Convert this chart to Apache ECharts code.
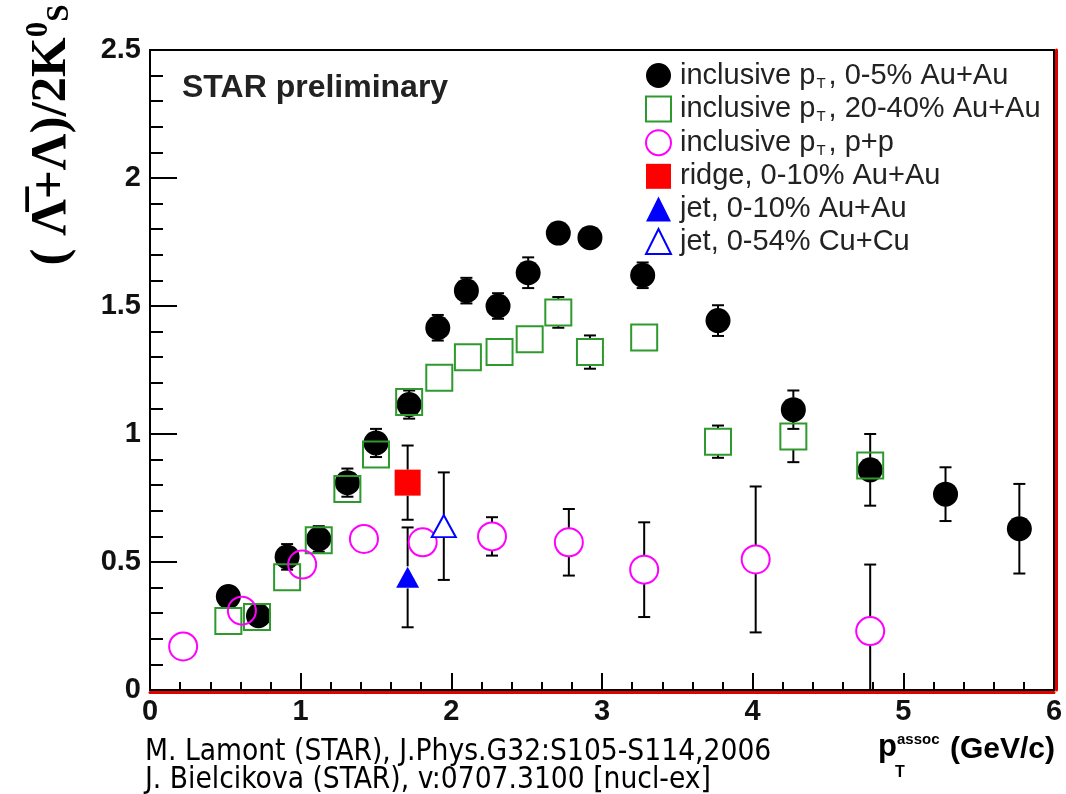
<!DOCTYPE html>
<html>
<head>
<meta charset="utf-8">
<script src="https://cdn.jsdelivr.net/npm/echarts@6/dist/echarts.min.js"></script>
<style>
  html, body { margin: 0; padding: 0; background: #fff; }
  #chart { width: 1066px; height: 794px; }
</style>
</head>
<body>
<div id="chart"></div>
<script>
// inclusive pT, 0-5% Au+Au
const auCentX = [0.52, 0.72, 0.91, 1.12, 1.31, 1.50, 1.72, 1.91, 2.10, 2.31, 2.51, 2.71, 2.92, 3.27, 3.77, 4.27, 4.78, 5.28, 5.77]
const auCentY = [0.365, 0.29, 0.52, 0.59, 0.81, 0.965, 1.115, 1.415, 1.56, 1.50, 1.63, 1.785, 1.767, 1.62, 1.443, 1.095, 0.86, 0.765, 0.63]
const auCentErr = [0.04, 0.04, 0.05, 0.05, 0.055, 0.055, 0.055, 0.05, 0.05, 0.05, 0.06, 0.045, 0.045, 0.05, 0.06, 0.075, 0.14, 0.105, 0.175]

// inclusive pT, 20-40% Au+Au
const auMidX = [0.52, 0.71, 0.91, 1.12, 1.31, 1.50, 1.72, 1.92, 2.11, 2.32, 2.52, 2.71, 2.92, 3.28, 3.77, 4.27, 4.78]
const auMidY = [0.27, 0.285, 0.44, 0.585, 0.785, 0.92, 1.125, 1.22, 1.30, 1.32, 1.37, 1.475, 1.32, 1.377, 0.97, 0.99, 0.877]
const auMidErr = [0.02, 0.02, 0.02, 0.03, 0.03, 0.03, 0.03, 0.03, 0.03, 0.03, 0.03, 0.06, 0.065, 0.045, 0.063, 0.1, 0.04]

// inclusive pT, p+p
const ppX = [0.22, 0.61, 1.01, 1.42, 1.81, 2.27, 2.78, 3.28, 4.02, 4.78]
const ppY = [0.17, 0.31, 0.49, 0.59, 0.577, 0.60, 0.577, 0.47, 0.51, 0.23]
const ppErr = [0.02, 0.02, 0.03, 0.03, 0.03, 0.075, 0.13, 0.185, 0.285, 0.26]

// ridge / jet points
const ridgeX = [1.71], ridgeY = [0.81], ridgeErr = [0.145]
const jetAuX = [1.71], jetAuY = [0.44], jetAuErr = [0.195]
const jetCuX = [1.95], jetCuY = [0.64], jetCuErr = [0.21]

const names = [
  'inclusive p_T, 0-5% Au+Au',
  'inclusive p_T, 20-40% Au+Au',
  'inclusive p_T, p+p',
  'ridge, 0-10% Au+Au',
  'jet, 0-10% Au+Au',
  'jet, 0-54% Cu+Cu'
]
const xTicks = [0, 1, 2, 3, 4, 5, 6]
const yTicks = [0, 0.5, 1, 1.5, 2, 2.5]

const pts = (xs, ys) => xs.map((x, i) => [x, ys[i]])
const errPts = (xs, ys, es) => xs.map((x, i) => [x, ys[i], es[i]])

// vertical error bar, leaving a gap where the marker sits
function errorSeries(id, data, gap, z) {
  return {
    name: id,
    type: 'custom',
    clip: true,
    silent: true,
    z: z,
    encode: { x: 0, y: 1 },
    data: data,
    renderItem: function(params, api) {
      const x = api.value(0)
      const y = api.value(1)
      const e = api.value(2)
      const c = api.coord([x, y])
      const top = api.coord([x, y + e])
      const bot = api.coord([x, y - e])
      const st = { stroke: '#000', lineWidth: 2 }
      const kids = []
      if (c[1] - top[1] > gap) {
        kids.push({ type: 'line', shape: { x1: c[0], y1: c[1] - gap, x2: top[0], y2: top[1] }, style: st })
        kids.push({ type: 'line', shape: { x1: top[0] - 6, y1: top[1], x2: top[0] + 6, y2: top[1] }, style: st })
        kids.push({ type: 'line', shape: { x1: c[0], y1: c[1] + gap, x2: bot[0], y2: bot[1] }, style: st })
        kids.push({ type: 'line', shape: { x1: bot[0] - 6, y1: bot[1], x2: bot[0] + 6, y2: bot[1] }, style: st })
      }
      return { type: 'group', children: kids }
    }
  }
}

const chart = echarts.init(document.getElementById('chart'))
const labelFont = { fontFamily: 'Liberation Sans', fontWeight: 'bold', fontSize: 29, color: '#111' }

const option = {
  animation: false,
  backgroundColor: '#fff',
  grid: { left: 150, right: 12, top: 50, bottom: 104, show: true, borderColor: '#000', borderWidth: 2 },
  xAxis: [{
    type: 'value',
    min: 0,
    max: 6,
    interval: 1,
    axisLine: { show: true, onZero: false, lineStyle: { color: '#000', width: 2 } },
    axisTick: { show: true, inside: true, length: 17, lineStyle: { color: '#000', width: 2 } },
    minorTick: { show: true, splitNumber: 5, length: 8, lineStyle: { color: '#000', width: 2 } },
    splitLine: { show: false },
    axisLabel: Object.assign({ margin: 7, formatter: v => xTicks.includes(v) ? String(v) : '' }, labelFont)
  }, {
    type: 'value',
    min: 0,
    max: 6,
    position: 'bottom',
    offset: 2,
    axisLine: { show: true, onZero: false, lineStyle: { color: '#e00000', width: 3 } },
    axisTick: { show: false },
    axisLabel: { show: false },
    splitLine: { show: false }
  }],
  yAxis: [{
    type: 'value',
    min: 0,
    max: 2.5,
    interval: 0.5,
    axisLine: { show: true, onZero: false, lineStyle: { color: '#000', width: 2 } },
    axisTick: { show: true, inside: true, length: 27, lineStyle: { color: '#000', width: 2 } },
    minorTick: { show: true, splitNumber: 5, length: 13, lineStyle: { color: '#000', width: 2 } },
    splitLine: { show: false },
    axisLabel: Object.assign({ margin: 9, formatter: v => yTicks.includes(v) ? String(v) : '' }, labelFont)
  }, {
    type: 'value',
    min: 0,
    max: 2.5,
    position: 'right',
    offset: 2,
    axisLine: { show: true, onZero: false, lineStyle: { color: '#e00000', width: 3 } },
    axisTick: { show: false },
    axisLabel: { show: false },
    splitLine: { show: false }
  }],
  legend: {
    data: names,
    orient: 'vertical',
    left: 640,
    top: 56,
    itemWidth: 25,
    itemHeight: 25,
    itemGap: 3.6,
    selectedMode: false,
    formatter: name => name.replace('p_T', 'p{sub|T}'),
    textStyle: {
      fontFamily: 'Liberation Sans',
      fontSize: 29,
      color: '#222',
      lineHeight: 29,
      padding: [0, 0, 0, 4],
      rich: {
        sub: { fontFamily: 'Liberation Sans', fontSize: 15, color: '#222', padding: [16, 3, 0, 1] }
      }
    }
  },
  graphic: [
    {
      type: 'text',
      x: 52,
      y: 135,
      rotation: Math.PI / 2,
      style: {
        text: '( \u039B\u0305+\u039B)/2K{sup|0}{sub|S}',
        fontFamily: 'Liberation Serif',
        fontWeight: 'bold',
        fontSize: 51,
        fill: '#000',
        align: 'center',
        verticalAlign: 'middle',
        rich: {
          sup: { fontFamily: 'Liberation Serif', fontWeight: 'bold', fontSize: 31, padding: [0, 0, 26, 0] },
          sub: { fontFamily: 'Liberation Serif', fontWeight: 'bold', fontSize: 31, padding: [16, 0, 0, 0] }
        }
      }
    },
    {
      type: 'text',
      left: 182,
      top: 72,
      style: { text: 'STAR preliminary', fontFamily: 'Liberation Sans', fontWeight: 'bold', fontSize: 32, fill: '#222' }
    },
    {
      type: 'text',
      left: 145,
      top: 737,
      style: {
        text: 'M. Lamont (STAR), J.Phys.G32:S105-S114,2006\nJ. Bielcikova (STAR), v:0707.3100 [nucl-ex]',
        fontFamily: 'DejaVu Sans Condensed',
        fontSize: 29.6,
        lineHeight: 28,
        fill: '#000'
      }
    },
    {
      type: 'text',
      left: 878,
      top: 732,
      style: { text: 'p', fontFamily: 'Liberation Sans', fontWeight: 'bold', fontSize: 31, fill: '#000' }
    },
    {
      type: 'text',
      left: 897,
      top: 732,
      style: { text: 'assoc', fontFamily: 'Liberation Sans', fontWeight: 'bold', fontSize: 15, fill: '#000' }
    },
    {
      type: 'text',
      left: 895,
      top: 765,
      style: { text: 'T', fontFamily: 'Liberation Sans', fontWeight: 'bold', fontSize: 16, fill: '#000' }
    },
    {
      type: 'text',
      left: 950,
      top: 735,
      style: { text: '(GeV/c)', fontFamily: 'Liberation Sans', fontWeight: 'bold', fontSize: 30, fill: '#000' }
    }
  ],
  series: [
    errorSeries('err0', errPts(auCentX, auCentY, auCentErr), 12, 2),
    errorSeries('err1', errPts(auMidX, auMidY, auMidErr), 13, 2),
    errorSeries('err2', errPts(ppX, ppY, ppErr), 14, 2),
    errorSeries('err3', errPts(ridgeX, ridgeY, ridgeErr), 13, 2),
    errorSeries('err4', errPts(jetAuX, jetAuY, jetAuErr), 11, 2),
    errorSeries('err5', errPts(jetCuX, jetCuY, jetCuErr), 11, 2),
    {
      name: names[0], type: 'scatter', z: 3, symbol: 'circle', symbolSize: 25,
      itemStyle: { color: '#000', opacity: 1 },
      data: pts(auCentX, auCentY)
    },
    {
      name: names[1], type: 'scatter', z: 4, symbol: 'rect', symbolSize: 26,
      itemStyle: { color: 'rgba(255,255,255,0)', borderColor: '#2e9a2e', borderWidth: 2, opacity: 1 },
      data: pts(auMidX, auMidY)
    },
    {
      name: names[2], type: 'scatter', z: 5, symbol: 'circle', symbolSize: 28,
      itemStyle: { color: 'rgba(255,255,255,0)', borderColor: '#ff00ff', borderWidth: 2, opacity: 1 },
      data: pts(ppX, ppY)
    },
    {
      name: names[3], type: 'scatter', z: 6, symbol: 'rect', symbolSize: 26,
      itemStyle: { color: '#ff0000', opacity: 1 },
      data: pts(ridgeX, ridgeY)
    },
    {
      name: names[4], type: 'scatter', z: 6, symbol: 'triangle', symbolSize: [23, 21],
      itemStyle: { color: '#0000ff', opacity: 1 },
      data: pts(jetAuX, jetAuY)
    },
    {
      name: names[5], type: 'scatter', z: 6, symbol: 'triangle', symbolSize: [24, 22],
      itemStyle: { color: '#fff', borderColor: '#0000ff', borderWidth: 2, opacity: 1 },
      data: pts(jetCuX, jetCuY)
    }
  ]
}

chart.setOption(option)
</script>
</body>
</html>
